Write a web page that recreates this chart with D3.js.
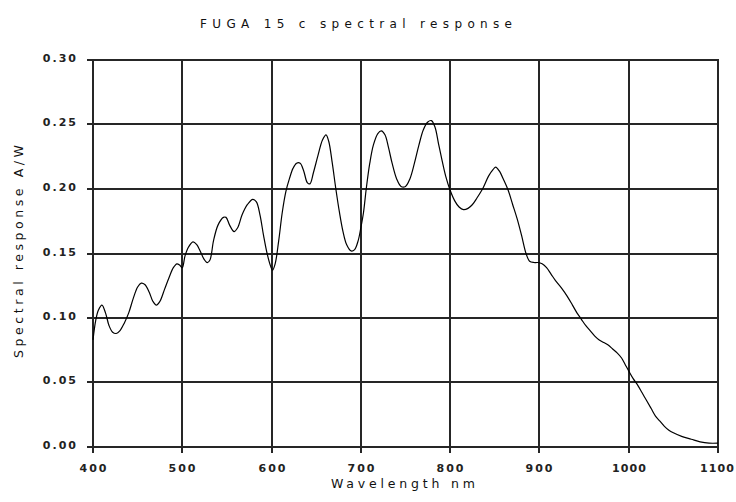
<!DOCTYPE html>
<html><head><meta charset="utf-8">
<script src="https://cdn.jsdelivr.net/npm/d3@7"></script>
<style>body{margin:0;background:#fff}</style>
</head><body>
<svg id="c" width="736" height="502"></svg>
<script>
const title = "FUGA 15 c spectral response";
const xLabel = "Wavelength nm";
const yLabel = "Spectral response A/W";
const xTicks = [400,500,600,700,800,900,1000,1100];
const yTicks = [0,0.05,0.10,0.15,0.20,0.25,0.30];
const wavelength = [400,403,406,410,414,418,422,426,430,435,440,445,450,454,458,463,467,471,475,480,485,490,494,497,500,503,507,512,516,520,524,528,531,535,540,546,549,553,558,562,567,573,579,583,587,591,595,599,601,604,608,612,616,620,624,628,632,636,640,643,647,652,657,661,664,668,672,676,680,684,689,693,697,700,703,706,710,714,719,723,727,731,735,740,745,750,755,760,765,770,775,779,783,787,791,795,800,805,810,815,820,825,830,837,843,848,851,855,860,865,870,875,880,885,889,894,898,903,908,913,918,925,931,937,942,947,952,957,962,967,972,977,982,987,992,996,1000,1005,1010,1015,1020,1025,1030,1035,1040,1045,1050,1060,1070,1080,1090,1100];
const response = [0.083,0.098,0.106,0.110,0.104,0.094,0.089,0.088,0.090,0.096,0.104,0.115,0.124,0.127,0.126,0.120,0.113,0.110,0.113,0.122,0.131,0.139,0.142,0.141,0.139,0.148,0.155,0.159,0.157,0.152,0.146,0.143,0.145,0.160,0.172,0.178,0.178,0.172,0.167,0.170,0.180,0.188,0.192,0.190,0.180,0.164,0.150,0.140,0.137,0.142,0.160,0.182,0.198,0.208,0.216,0.220,0.220,0.214,0.205,0.204,0.213,0.226,0.238,0.242,0.237,0.220,0.200,0.182,0.167,0.157,0.152,0.153,0.160,0.170,0.182,0.200,0.220,0.234,0.243,0.245,0.242,0.232,0.220,0.208,0.202,0.202,0.208,0.220,0.234,0.246,0.252,0.253,0.248,0.235,0.222,0.210,0.199,0.191,0.186,0.184,0.185,0.188,0.193,0.201,0.210,0.215,0.217,0.214,0.207,0.199,0.188,0.177,0.164,0.150,0.144,0.143,0.143,0.142,0.139,0.134,0.129,0.123,0.117,0.110,0.104,0.099,0.094,0.090,0.086,0.083,0.081,0.079,0.076,0.073,0.069,0.064,0.059,0.053,0.048,0.042,0.036,0.030,0.024,0.020,0.016,0.013,0.011,0.008,0.006,0.004,0.003,0.003];

const svg = d3.select("#c");
const L = 93, R = 718, T = 60, B = 447;
const x = d3.scaleLinear().domain([400,1100]).range([L,R]);
const y = d3.scaleLinear().domain([0,0.30]).range([B,T]);
const font = "'DejaVu Sans', 'Liberation Sans', Arial, sans-serif";

// grid
const g = svg.append("g").attr("stroke","#262626").attr("stroke-width",2);
xTicks.forEach(t=>{
  const px = Math.round(x(t));
  g.append("line").attr("x1",px).attr("x2",px).attr("y1",T-1).attr("y2",B+6);
});
yTicks.forEach(t=>{
  const py = Math.round(y(t));
  g.append("line").attr("x1",L-6).attr("x2",R+1).attr("y1",py).attr("y2",py);
});

// tick labels
svg.append("g").selectAll("text").data(yTicks).join("text")
  .attr("x",76+2).attr("y",d=>Math.round(y(d))+2).attr("text-anchor","end")
  .attr("font-family",font).attr("font-size",11).attr("font-weight","bold").attr("letter-spacing",2)
  .attr("fill","#222").text(d=>d3.format(".2f")(d));
svg.append("g").selectAll("text").data(xTicks).join("text")
  .attr("x",d=>{const s=String(d); const w=s.length>3?34:27; return Math.min(Math.round(x(d)), 734-w/2);})
  .attr("y",472).attr("text-anchor","middle")
  .attr("textLength",d=>String(d).length>3?34:27).attr("lengthAdjust","spacing")
  .attr("font-family",font).attr("font-size",11).attr("font-weight","bold")
  .attr("fill","#222").text(d=>d);

// curve
const line = d3.line().x((d,i)=>x(wavelength[i])).y(d=>y(d)).curve(d3.curveCatmullRom);
svg.append("path").attr("d",line(response)).attr("fill","none").attr("stroke","#000").attr("stroke-width",1.2);

// titles
svg.append("text").attr("x",200).attr("y",28)
  .attr("textLength",312).attr("lengthAdjust","spacing")
  .attr("font-family",font).attr("font-size",12).attr("fill","#111").text(title);
svg.append("text").attr("x",331).attr("y",488)
  .attr("textLength",144).attr("lengthAdjust","spacing")
  .attr("font-family",font).attr("font-size",12.5).attr("fill","#111").text(xLabel);
svg.append("text").attr("transform","translate(23,358) rotate(-90)")
  .attr("textLength",213).attr("lengthAdjust","spacing")
  .attr("font-family",font).attr("font-size",12.5).attr("fill","#111").text(yLabel);
</script>
</body></html>
